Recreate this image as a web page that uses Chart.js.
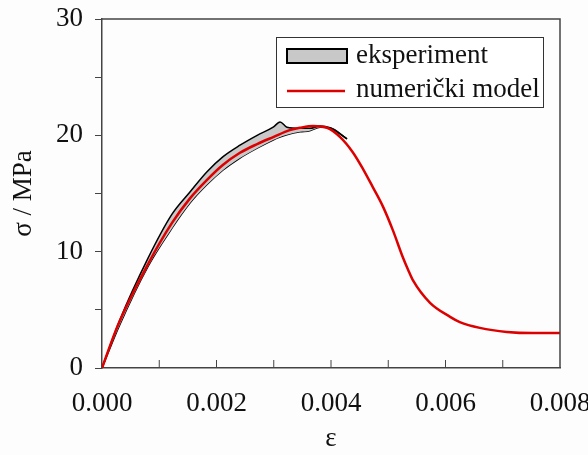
<!DOCTYPE html>
<html>
<head>
<meta charset="utf-8">
<script src="https://cdn.jsdelivr.net/npm/chart.js@4"></script>
<style>
  html, body { margin: 0; padding: 0; background: #fdfdfd; }
  #wrap { width: 588px; height: 455px; }
</style>
</head>
<body>
<div id="wrap"><canvas id="chart" width="588" height="455"></canvas></div>
<script>
// experiment band (upper and lower envelope share the same strains)
const expStrain = [0, 0.00030, 0.00080, 0.00122, 0.00154, 0.00183, 0.00211, 0.00241, 0.00271, 0.00299, 0.00311, 0.00323, 0.00346, 0.00363, 0.00381, 0.00398, 0.00428];
const expUpper = [0, 4.0, 9.4, 13.2, 15.15, 16.85, 18.15, 19.15, 20.0, 20.7, 21.15, 20.7, 20.6, 20.6, 20.8, 20.65, 19.7];
const expLower = [0, 3.6, 8.7, 12.0, 14.2, 15.75, 17.0, 18.05, 18.9, 19.6, 19.85, 20.05, 20.3, 20.4, 20.7, 20.65, 19.7];

// numerical model
const modelStrain = [0, 0.00028, 0.00080, 0.00122, 0.00154, 0.00183, 0.00211, 0.00241, 0.00271, 0.00299, 0.00328, 0.00346, 0.00369, 0.00393, 0.00416, 0.00438, 0.00456, 0.00473, 0.00491, 0.00508, 0.00526, 0.00535, 0.00543, 0.00573, 0.00608, 0.00625, 0.00660, 0.00707, 0.00753, 0.00800];
const modelStress = [0, 3.7, 8.9, 12.45, 14.6, 16.15, 17.45, 18.5, 19.25, 19.85, 20.45, 20.65, 20.8, 20.65, 19.85, 18.55, 17.1, 15.55, 13.85, 11.85, 9.45, 8.4, 7.55, 5.6, 4.4, 3.95, 3.45, 3.1, 3.0, 3.0];

const legendLabels = ["eksperiment", "numerički model"];
const xLabel = "ε";
const yLabel = "σ / MPa";

const font = "Liberation Serif";
const fontSize = 27;
const ink = "#111";
const axisColor = "#444";

function pts(xs, ys) {
    return xs.map((x, i) => ({ x: x, y: ys[i] }));
}

const framePlugin = {
    id: "frame",
    afterDraw(chart) {
        const ctx = chart.ctx;
        const a = chart.chartArea;
        const xs = chart.scales.x;
        ctx.save();
        ctx.strokeStyle = axisColor;
        ctx.lineWidth = 1.5;
        ctx.beginPath();
        ctx.moveTo(a.left, a.top);
        ctx.lineTo(a.right, a.top);
        ctx.lineTo(a.right, a.bottom);
        ctx.stroke();
        // inside ticks on x axis
        ctx.lineWidth = 1;
        xs.ticks.forEach(t => {
            const px = xs.getPixelForValue(t.value);
            if (px <= a.left + 1 || px >= a.right - 1) return;
            ctx.beginPath();
            ctx.moveTo(px, a.bottom);
            ctx.lineTo(px, a.bottom - 8);
            ctx.stroke();
        });

        // legend box
        const bx = a.left + 174, by = a.top + 18, bw = 267, bh = 70;
        ctx.fillStyle = "#fff";
        ctx.fillRect(bx, by, bw, bh);
        ctx.strokeStyle = "#333";
        ctx.lineWidth = 1;
        ctx.strokeRect(bx + 0.5, by + 0.5, bw, bh);

        ctx.fillStyle = "#c8c8c8";
        ctx.fillRect(bx + 11, by + 12, 60, 14);
        ctx.strokeStyle = "#000";
        ctx.lineWidth = 2;
        ctx.strokeRect(bx + 11, by + 12, 60, 14);

        ctx.strokeStyle = "#dd0000";
        ctx.lineWidth = 2.5;
        ctx.beginPath();
        ctx.moveTo(bx + 11, by + 54);
        ctx.lineTo(bx + 69, by + 54);
        ctx.stroke();

        ctx.fillStyle = ink;
        ctx.font = fontSize + "px '" + font + "'";
        ctx.textAlign = "left";
        ctx.textBaseline = "alphabetic";
        ctx.fillText(legendLabels[0], bx + 80, by + 26);
        ctx.fillText(legendLabels[1], bx + 80, by + 60);
        ctx.restore();
    }
};

new Chart(document.getElementById("chart"), {
    type: "line",
    data: {
        datasets: [{
            label: legendLabels[1],
            data: pts(modelStrain, modelStress),
            borderColor: "#dd0000",
            borderWidth: 2.5,
            pointRadius: 0,
            fill: false,
            cubicInterpolationMode: "monotone"
        }, {
            label: legendLabels[0],
            data: pts(expStrain, expUpper),
            borderColor: "#000",
            borderWidth: 1.5,
            backgroundColor: "#c8c8c8",
            pointRadius: 0,
            fill: "+1",
            cubicInterpolationMode: "monotone"
        }, {
            label: legendLabels[0] + " (donja)",
            data: pts(expStrain, expLower),
            borderColor: "#000",
            borderWidth: 1.5,
            pointRadius: 0,
            fill: false,
            cubicInterpolationMode: "monotone"
        }]
    },
    options: {
        responsive: false,
        animation: false,
        layout: { padding: { top: 19, right: 28, left: 0, bottom: 0 } },
        plugins: {
            legend: { display: false },
            tooltip: { enabled: false }
        },
        scales: {
            x: {
                type: "linear",
                min: 0,
                max: 0.008,
                grid: { display: true, drawOnChartArea: false, drawTicks: false, color: axisColor },
                border: { display: true, color: axisColor, width: 1.5 },
                ticks: {
                    stepSize: 0.001,
                    padding: 20,
                    maxRotation: 0,
                    autoSkip: false,
                    color: ink,
                    font: { family: font, size: fontSize },
                    callback: v => (Math.round(v * 1000) % 2 === 0 ? v.toFixed(3) : "")
                },
                title: {
                    display: true,
                    text: xLabel,
                    color: ink,
                    font: { family: font, size: fontSize, lineHeight: 1.2 },
                    padding: 0
                },
                afterFit: s => { s.height = 87; s.paddingLeft = 0; s.paddingRight = 0; }
            },
            y: {
                min: 0,
                max: 30,
                grid: { display: true, drawOnChartArea: false, drawTicks: true, tickLength: 7, color: axisColor },
                border: { display: true, color: axisColor, width: 1.5 },
                ticks: {
                    stepSize: 5,
                    padding: 12,
                    color: ink,
                    font: { family: font, size: fontSize },
                    callback: v => (v % 10 === 0 ? String(v) : "")
                },
                title: {
                    display: true,
                    text: yLabel,
                    color: ink,
                    font: { family: font, size: fontSize, lineHeight: 1.2 },
                    padding: { top: 8, bottom: 0 }
                },
                afterFit: s => { s.width = 102; s.paddingTop = 0; s.paddingBottom = 0; }
            }
        }
    },
    plugins: [framePlugin]
});
</script>
</body>
</html>
